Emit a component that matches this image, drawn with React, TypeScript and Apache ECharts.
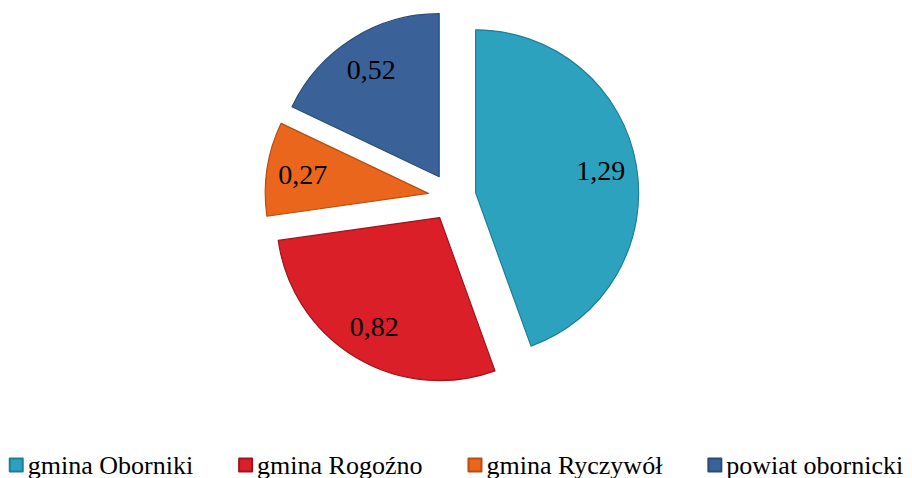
import React, { useEffect, useRef } from "react";
import * as echarts from "echarts";

const categories = ["gmina Oborniki", "gmina Rogoźno", "gmina Ryczywół", "powiat obornicki"];
const values = [1.29, 0.82, 0.27, 0.52];
const colors = ["#2CA2BE", "#DA1F28", "#EA661C", "#3A6299"];
const borderColors = ["#1E7E96", "#A0151C", "#B84E10", "#2B4B78"];

const FONT = "'Liberation Serif', 'Times New Roman', serif";

export default function App() {
  const ref = useRef<HTMLDivElement>(null);

  useEffect(() => {
    if (!ref.current) return;
    const chart = echarts.init(ref.current, undefined, { renderer: "svg" });

    const mainData = categories.map((name, i) => ({
      name,
      value: values[i],
      selected: true,
      itemStyle: { color: colors[i], borderColor: borderColors[i], borderWidth: 1.2 },
    }));
    const labelData = categories.map((name, i) => ({
      name,
      value: values[i],
      selected: true,
      itemStyle: { color: "rgba(0,0,0,0)", borderWidth: 0 },
    }));

    chart.setOption({
      animation: false,
      backgroundColor: "#ffffff",
      legend: {
        data: categories,
        left: "center",
        top: 447,
        icon: "rect",
        itemWidth: 13,
        itemHeight: 13,
        itemGap: 45,
        selectedMode: false,
        textStyle: { fontFamily: FONT, fontSize: 26, color: "#000" },
      },
      series: [
        {
          type: "pie",
          center: [452, 197],
          radius: [0, 163],
          startAngle: 90,
          clockwise: true,
          selectedMode: "multiple",
          selectedOffset: 24,
          silent: true,
          label: { show: false },
          labelLine: { show: false },
          emphasis: { disabled: true },
          data: mainData,
        },
        {
          type: "pie",
          center: [452, 197],
          radius: [85, 163],
          startAngle: 90,
          clockwise: true,
          selectedMode: "multiple",
          selectedOffset: 24,
          silent: true,
          label: {
            show: true,
            position: "inside",
            fontFamily: FONT,
            fontSize: 28,
            color: "#000",
            formatter: (p: any) => Number(p.value).toFixed(2).replace(".", ","),
          },
          labelLine: { show: false },
          emphasis: { disabled: true },
          data: labelData,
        },
      ],
    });

    return () => chart.dispose();
  }, []);

  return (
    <div
      ref={ref}
      style={{ position: "absolute", left: 0, top: 0, width: 912, height: 478 }}
    />
  );
}
